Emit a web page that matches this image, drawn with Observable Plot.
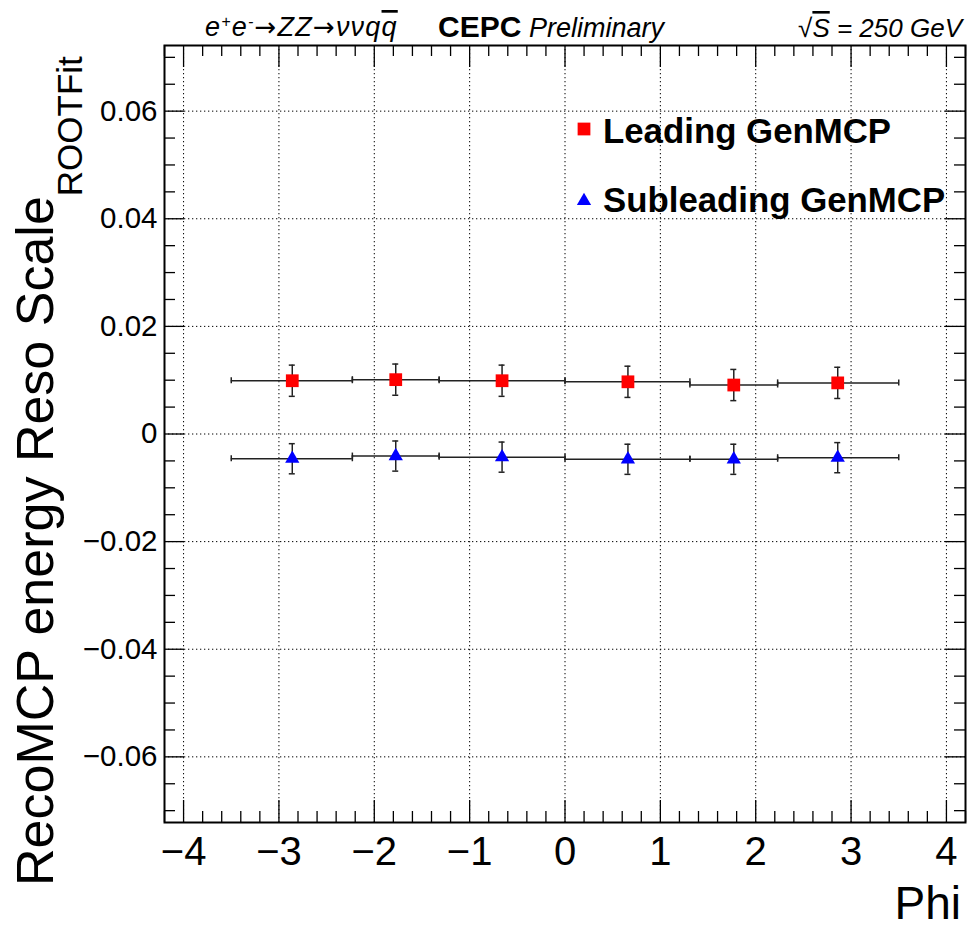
<!DOCTYPE html>
<html><head><meta charset="utf-8">
<script src="https://cdn.jsdelivr.net/npm/d3@7"></script>
<script src="https://cdn.jsdelivr.net/npm/@observablehq/plot@0.6"></script>
<style>body{margin:0;background:#fff} svg{display:block}</style>
</head><body><div id="chart"></div>
<script>
// ---- data ----
const binLo = [-3.5, -2.23, -1.32, 0, 1.31, 2.23];
const binHi = [-2.23, -1.32, 0, 1.31, 2.23, 3.5];
const phiMean = [-2.86, -1.775, -0.66, 0.66, 1.77, 2.86];
const leadingVal = [0.0099, 0.0101, 0.0099, 0.0097, 0.0091, 0.0095];
const leadingErr = [0.0029, 0.0029, 0.0029, 0.0029, 0.0029, 0.0029];
const subVal = [-0.0046, -0.0041, -0.0043, -0.0047, -0.0047, -0.0044];
const subErr = [0.0028, 0.0028, 0.0028, 0.0028, 0.0028, 0.0028];
const xMajor = [-4, -3, -2, -1, 0, 1, 2, 3, 4];
const xTickLabels = ["\u22124", "\u22123", "\u22122", "\u22121", "0", "1", "2", "3", "4"];
const yMajor = [-0.06, -0.04, -0.02, 0, 0.02, 0.04, 0.06];
const yTickLabels = ["\u22120.06", "\u22120.04", "\u22120.02", "0", "0.02", "0.04", "0.06"];
const xMinor = [-4.2,-3.8,-3.6,-3.4,-3.2,-2.8,-2.6,-2.4,-2.2,-1.8,-1.6,-1.4,-1.2,-0.8,-0.6,-0.4,-0.2,0.2,0.4,0.6,0.8,1.2,1.4,1.6,1.8,2.2,2.4,2.6,2.8,3.2,3.4,3.6,3.8,4.2];
const yMinor = [-0.07,-0.065,-0.055,-0.05,-0.045,-0.035,-0.03,-0.025,-0.015,-0.01,-0.005,0.005,0.01,0.015,0.025,0.03,0.035,0.045,0.05,0.055,0.065,0.07];
const seriesNames = ["Leading GenMCP", "Subleading GenMCP"];

const lead = phiMean.map((x, i) => ({x, y: leadingVal[i], e: leadingErr[i], lo: binLo[i], hi: binHi[i]}));
const sub = phiMean.map((x, i) => ({x, y: subVal[i], e: subErr[i], lo: binLo[i], hi: binHi[i]}));

const W = 967, H = 929, mL = 164, mR = 2, mT = 45, mB = 107;
const fw = W - mL - mR, fh = H - mT - mB;
const majX = 22, minX = 11, majY = 20, minY = 11;
const ink = "#222";
const RED = "#ff0000", BLUE = "#0000ff";
const rSq = 7.2, rTri = 5.3;

function errMarks(data) {
  return [
    Plot.ruleY(data, {y: "y", x1: "lo", x2: "hi", stroke: ink, strokeWidth: 1.5}),
    Plot.ruleX(data, {x: "lo", y1: "y", y2: "y", insetTop: -3, insetBottom: -3, stroke: ink, strokeWidth: 1.5}),
    Plot.ruleX(data, {x: "hi", y1: "y", y2: "y", insetTop: -3, insetBottom: -3, stroke: ink, strokeWidth: 1.5}),
    Plot.ruleX(data, {x: "x", y1: d => d.y - d.e, y2: d => d.y + d.e, stroke: ink, strokeWidth: 1.5}),
    Plot.ruleY(data, {y: d => d.y + d.e, x1: "x", x2: "x", insetLeft: -3, insetRight: -3, stroke: ink, strokeWidth: 1.5}),
    Plot.ruleY(data, {y: d => d.y - d.e, x1: "x", x2: "x", insetLeft: -3, insetRight: -3, stroke: ink, strokeWidth: 1.5})
  ];
}

const dash = "1.3,2.7";
const chart = Plot.plot({
  width: W, height: H,
  marginLeft: mL, marginRight: mR, marginTop: mT, marginBottom: mB,
  style: {fontFamily: "'Liberation Sans', Arial, Helvetica, sans-serif", background: "white", color: "black"},
  x: {domain: [-4.2, 4.2], axis: null},
  y: {domain: [-0.0722, 0.0722], axis: null},
  marks: [
    Plot.gridX(xMajor, {stroke: "black", strokeOpacity: 1, strokeWidth: 1, strokeDasharray: dash}),
    Plot.gridY(yMajor, {stroke: "black", strokeOpacity: 1, strokeWidth: 1, strokeDasharray: dash}),
    // inward ticks
    Plot.ruleX(xMajor, {x: d => d, insetTop: fh - majX, stroke: "black", strokeWidth: 1.3}),
    Plot.ruleX(xMajor, {x: d => d, insetBottom: fh - majX, stroke: "black", strokeWidth: 1.3}),
    Plot.ruleX(xMinor, {x: d => d, insetTop: fh - minX, stroke: "black", strokeWidth: 1.3}),
    Plot.ruleX(xMinor, {x: d => d, insetBottom: fh - minX, stroke: "black", strokeWidth: 1.3}),
    Plot.ruleY(yMajor, {y: d => d, insetRight: fw - majY, stroke: "black", strokeWidth: 1.3}),
    Plot.ruleY(yMajor, {y: d => d, insetLeft: fw - majY, stroke: "black", strokeWidth: 1.3}),
    Plot.ruleY(yMinor, {y: d => d, insetRight: fw - minY, stroke: "black", strokeWidth: 1.3}),
    Plot.ruleY(yMinor, {y: d => d, insetLeft: fw - minY, stroke: "black", strokeWidth: 1.3}),
    // tick labels
    Plot.text(xMajor, {x: d => d, text: (d, i) => xTickLabels[i], frameAnchor: "bottom", dy: 30, lineAnchor: "middle", fontSize: 40}),
    Plot.text(yMajor, {y: d => d, text: (d, i) => yTickLabels[i], frameAnchor: "left", dx: -7, textAnchor: "end", lineAnchor: "middle", fontSize: 29.5}),
    // series
    ...errMarks(lead),
    ...errMarks(sub),
    Plot.dot(lead, {x: "x", y: "y", symbol: "square", r: rSq, fill: RED}),
    Plot.dot(sub, {x: "x", y: "y", symbol: "triangle", r: rTri, fill: BLUE}),
    Plot.frame({stroke: "black", strokeWidth: 2})
  ]
});
document.getElementById("chart").appendChild(chart);

// ---- texts and legend ----
const svg = d3.select(chart);
const F = "'Liberation Sans', Arial, Helvetica, sans-serif";
function txt(x, y, size) {
  return svg.append("text").attr("x", x).attr("y", y).attr("font-family", F)
    .attr("font-size", size).attr("text-anchor", "start").attr("fill", "black");
}

// header left
const h1 = txt(205, 36, 27).attr("font-style", "italic").attr("letter-spacing", 1.2);
const arrow = (sel) => sel.append("tspan").attr("font-family", "'DejaVu Sans', sans-serif").attr("font-style", "normal").attr("font-size", 26).text("\u2192");
h1.append("tspan").text("e");
h1.append("tspan").attr("dy", -9).attr("font-size", 16).text("+");
h1.append("tspan").attr("dy", 9).text("e");
h1.append("tspan").attr("dy", -9).attr("font-size", 16).text("-");
arrow(h1).attr("dy", 9);
h1.append("tspan").text("ZZ");
arrow(h1);
h1.append("tspan").text("\u03bd\u03bdq");
h1.append("tspan").attr("text-decoration", "overline").text("q");

txt(438, 37, 30).attr("font-weight", "bold").text("CEPC");
txt(529, 37, 27).attr("font-style", "italic").text("Preliminary");

const h2 = txt(962, 37, 26).attr("font-style", "italic").attr("text-anchor", "end");
h2.append("tspan").attr("font-style", "normal").text("\u221a");
h2.append("tspan").attr("text-decoration", "overline").text("S");
h2.append("tspan").text(" = 250 GeV");

// axis titles
txt(961, 919, 46).attr("text-anchor", "end").text("Phi");
const yt = txt(0, 0, 52).attr("transform", "translate(53,886) rotate(-90)");
yt.append("tspan").text("RecoMCP energy Reso Scale");
yt.append("tspan").attr("dy", 29).attr("font-size", 35).text("ROOTFit");

// legend
const lg = svg.append("g");
lg.append("path").attr("transform", "translate(584,129)").attr("d", d3.symbol(d3.symbolSquare, Math.PI * rSq * rSq)()).attr("fill", RED);
lg.append("path").attr("transform", "translate(584,201)").attr("d", d3.symbol(d3.symbolTriangle, Math.PI * rTri * rTri)()).attr("fill", BLUE);
txt(603, 143, 34.8).attr("font-weight", "bold").text(seriesNames[0]);
txt(603, 212, 34.8).attr("font-weight", "bold").text(seriesNames[1]);
</script>
</body></html>
